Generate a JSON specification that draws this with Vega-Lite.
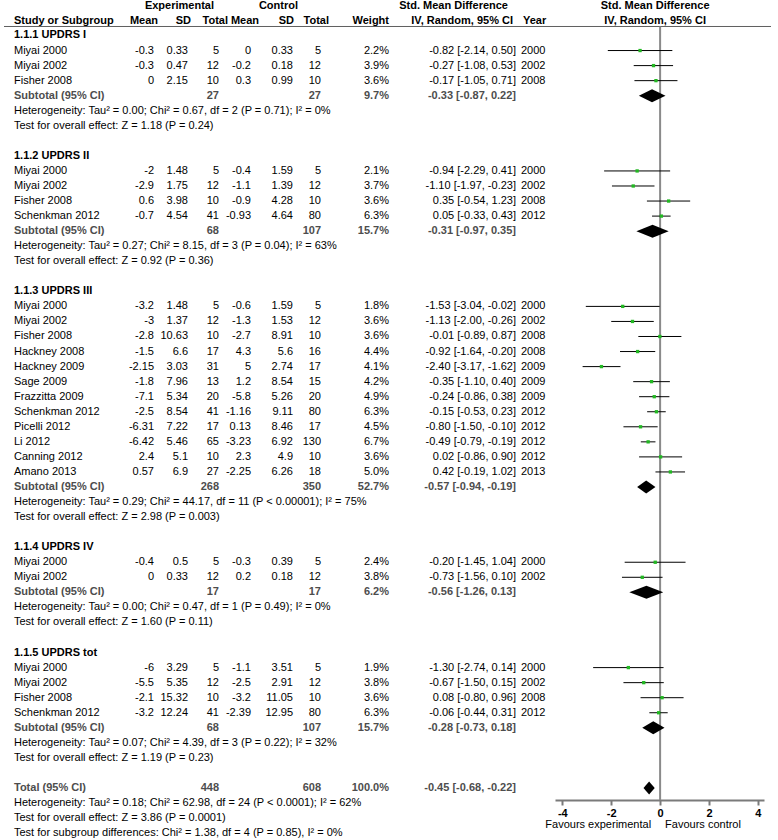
{
  "$schema": "https://vega.github.io/schema/vega-lite/v6.json",
  "background": "white",
  "padding": {"left": 3, "top": 0, "right": 0, "bottom": 0},
  "spacing": 0,
  "bounds": "flush",
  "config": {
    "view": {"stroke": null},
    "text": {"font": "Liberation Sans", "fontSize": 11},
    "axis": {"labelFont": "Liberation Sans", "titleFont": "Liberation Sans"}
  },
  "datasets": {
    "hdr": [
      {"col": "study", "row": 1, "text": "Study or Subgroup"},
      {"col": "em", "row": 1, "text": "Mean"},
      {"col": "esd", "row": 1, "text": "SD"},
      {"col": "en", "row": 1, "text": "Total"},
      {"col": "en", "row": 0, "text": "Experimental"},
      {"col": "cm", "row": 1, "text": "Mean"},
      {"col": "csd", "row": 1, "text": "SD"},
      {"col": "csd", "row": 0, "text": "Control"},
      {"col": "cn", "row": 1, "text": "Total"},
      {"col": "w", "row": 1, "text": "Weight"},
      {"col": "ci", "row": 0, "text": "Std. Mean Difference"},
      {"col": "ci", "row": 1, "text": "IV, Random, 95% CI"},
      {"col": "year", "row": 1, "text": "Year"},
      {"col": "plot", "row": 0, "text": "Std. Mean Difference"},
      {"col": "plot", "row": 1, "text": "IV, Random, 95% CI"}
    ],
    "table": [
      {"row": 2, "type": "group", "label": "1.1.1 UPDRS I"},
      {"row": 3, "type": "study", "label": "Miyai 2000", "em": -0.3, "esd": 0.33, "en": 5, "cm": 0, "csd": 0.33, "cn": 5, "w": 0.022, "ci": "-0.82 [-2.14, 0.50]", "year": 2000, "est": -0.82, "lo": -2.14, "hi": 0.5},
      {"row": 4, "type": "study", "label": "Miyai 2002", "em": -0.3, "esd": 0.47, "en": 12, "cm": -0.2, "csd": 0.18, "cn": 12, "w": 0.039, "ci": "-0.27 [-1.08, 0.53]", "year": 2002, "est": -0.27, "lo": -1.08, "hi": 0.53},
      {"row": 5, "type": "study", "label": "Fisher 2008", "em": 0, "esd": 2.15, "en": 10, "cm": 0.3, "csd": 0.99, "cn": 10, "w": 0.036, "ci": "-0.17 [-1.05, 0.71]", "year": 2008, "est": -0.17, "lo": -1.05, "hi": 0.71},
      {"row": 6, "type": "subtotal", "label": "Subtotal (95% CI)", "en": 27, "cn": 27, "w": 0.097, "ci": "-0.33 [-0.87, 0.22]", "est": -0.33, "lo": -0.87, "hi": 0.22},
      {"row": 7, "type": "note", "label": "Heterogeneity: Tau² = 0.00; Chi² = 0.67, df = 2 (P = 0.71); I² = 0%"},
      {"row": 8, "type": "note", "label": "Test for overall effect: Z = 1.18 (P = 0.24)"},
      {"row": 10, "type": "group", "label": "1.1.2 UPDRS II"},
      {"row": 11, "type": "study", "label": "Miyai 2000", "em": -2, "esd": 1.48, "en": 5, "cm": -0.4, "csd": 1.59, "cn": 5, "w": 0.021, "ci": "-0.94 [-2.29, 0.41]", "year": 2000, "est": -0.94, "lo": -2.29, "hi": 0.41},
      {"row": 12, "type": "study", "label": "Miyai 2002", "em": -2.9, "esd": 1.75, "en": 12, "cm": -1.1, "csd": 1.39, "cn": 12, "w": 0.037, "ci": "-1.10 [-1.97, -0.23]", "year": 2002, "est": -1.1, "lo": -1.97, "hi": -0.23},
      {"row": 13, "type": "study", "label": "Fisher 2008", "em": 0.6, "esd": 3.98, "en": 10, "cm": -0.9, "csd": 4.28, "cn": 10, "w": 0.036, "ci": "0.35 [-0.54, 1.23]", "year": 2008, "est": 0.35, "lo": -0.54, "hi": 1.23},
      {"row": 14, "type": "study", "label": "Schenkman 2012", "em": -0.7, "esd": 4.54, "en": 41, "cm": -0.93, "csd": 4.64, "cn": 80, "w": 0.063, "ci": "0.05 [-0.33, 0.43]", "year": 2012, "est": 0.05, "lo": -0.33, "hi": 0.43},
      {"row": 15, "type": "subtotal", "label": "Subtotal (95% CI)", "en": 68, "cn": 107, "w": 0.157, "ci": "-0.31 [-0.97, 0.35]", "est": -0.31, "lo": -0.97, "hi": 0.35},
      {"row": 16, "type": "note", "label": "Heterogeneity: Tau² = 0.27; Chi² = 8.15, df = 3 (P = 0.04); I² = 63%"},
      {"row": 17, "type": "note", "label": "Test for overall effect: Z = 0.92 (P = 0.36)"},
      {"row": 19, "type": "group", "label": "1.1.3 UPDRS III"},
      {"row": 20, "type": "study", "label": "Miyai 2000", "em": -3.2, "esd": 1.48, "en": 5, "cm": -0.6, "csd": 1.59, "cn": 5, "w": 0.018, "ci": "-1.53 [-3.04, -0.02]", "year": 2000, "est": -1.53, "lo": -3.04, "hi": -0.02},
      {"row": 21, "type": "study", "label": "Miyai 2002", "em": -3, "esd": 1.37, "en": 12, "cm": -1.3, "csd": 1.53, "cn": 12, "w": 0.036, "ci": "-1.13 [-2.00, -0.26]", "year": 2002, "est": -1.13, "lo": -2.0, "hi": -0.26},
      {"row": 22, "type": "study", "label": "Fisher 2008", "em": -2.8, "esd": 10.63, "en": 10, "cm": -2.7, "csd": 8.91, "cn": 10, "w": 0.036, "ci": "-0.01 [-0.89, 0.87]", "year": 2008, "est": -0.01, "lo": -0.89, "hi": 0.87},
      {"row": 23, "type": "study", "label": "Hackney 2008", "em": -1.5, "esd": 6.6, "en": 17, "cm": 4.3, "csd": 5.6, "cn": 16, "w": 0.044, "ci": "-0.92 [-1.64, -0.20]", "year": 2008, "est": -0.92, "lo": -1.64, "hi": -0.2},
      {"row": 24, "type": "study", "label": "Hackney 2009", "em": -2.15, "esd": 3.03, "en": 31, "cm": 5, "csd": 2.74, "cn": 17, "w": 0.041, "ci": "-2.40 [-3.17, -1.62]", "year": 2009, "est": -2.4, "lo": -3.17, "hi": -1.62},
      {"row": 25, "type": "study", "label": "Sage 2009", "em": -1.8, "esd": 7.96, "en": 13, "cm": 1.2, "csd": 8.54, "cn": 15, "w": 0.042, "ci": "-0.35 [-1.10, 0.40]", "year": 2009, "est": -0.35, "lo": -1.1, "hi": 0.4},
      {"row": 26, "type": "study", "label": "Frazzitta 2009", "em": -7.1, "esd": 5.34, "en": 20, "cm": -5.8, "csd": 5.26, "cn": 20, "w": 0.049, "ci": "-0.24 [-0.86, 0.38]", "year": 2009, "est": -0.24, "lo": -0.86, "hi": 0.38},
      {"row": 27, "type": "study", "label": "Schenkman 2012", "em": -2.5, "esd": 8.54, "en": 41, "cm": -1.16, "csd": 9.11, "cn": 80, "w": 0.063, "ci": "-0.15 [-0.53, 0.23]", "year": 2012, "est": -0.15, "lo": -0.53, "hi": 0.23},
      {"row": 28, "type": "study", "label": "Picelli 2012", "em": -6.31, "esd": 7.22, "en": 17, "cm": 0.13, "csd": 8.46, "cn": 17, "w": 0.045, "ci": "-0.80 [-1.50, -0.10]", "year": 2012, "est": -0.8, "lo": -1.5, "hi": -0.1},
      {"row": 29, "type": "study", "label": "Li 2012", "em": -6.42, "esd": 5.46, "en": 65, "cm": -3.23, "csd": 6.92, "cn": 130, "w": 0.067, "ci": "-0.49 [-0.79, -0.19]", "year": 2012, "est": -0.49, "lo": -0.79, "hi": -0.19},
      {"row": 30, "type": "study", "label": "Canning 2012", "em": 2.4, "esd": 5.1, "en": 10, "cm": 2.3, "csd": 4.9, "cn": 10, "w": 0.036, "ci": "0.02 [-0.86, 0.90]", "year": 2012, "est": 0.02, "lo": -0.86, "hi": 0.9},
      {"row": 31, "type": "study", "label": "Amano 2013", "em": 0.57, "esd": 6.9, "en": 27, "cm": -2.25, "csd": 6.26, "cn": 18, "w": 0.05, "ci": "0.42 [-0.19, 1.02]", "year": 2013, "est": 0.42, "lo": -0.19, "hi": 1.02},
      {"row": 32, "type": "subtotal", "label": "Subtotal (95% CI)", "en": 268, "cn": 350, "w": 0.527, "ci": "-0.57 [-0.94, -0.19]", "est": -0.57, "lo": -0.94, "hi": -0.19},
      {"row": 33, "type": "note", "label": "Heterogeneity: Tau² = 0.29; Chi² = 44.17, df = 11 (P < 0.00001); I² = 75%"},
      {"row": 34, "type": "note", "label": "Test for overall effect: Z = 2.98 (P = 0.003)"},
      {"row": 36, "type": "group", "label": "1.1.4 UPDRS IV"},
      {"row": 37, "type": "study", "label": "Miyai 2000", "em": -0.4, "esd": 0.5, "en": 5, "cm": -0.3, "csd": 0.39, "cn": 5, "w": 0.024, "ci": "-0.20 [-1.45, 1.04]", "year": 2000, "est": -0.2, "lo": -1.45, "hi": 1.04},
      {"row": 38, "type": "study", "label": "Miyai 2002", "em": 0, "esd": 0.33, "en": 12, "cm": 0.2, "csd": 0.18, "cn": 12, "w": 0.038, "ci": "-0.73 [-1.56, 0.10]", "year": 2002, "est": -0.73, "lo": -1.56, "hi": 0.1},
      {"row": 39, "type": "subtotal", "label": "Subtotal (95% CI)", "en": 17, "cn": 17, "w": 0.062, "ci": "-0.56 [-1.26, 0.13]", "est": -0.56, "lo": -1.26, "hi": 0.13},
      {"row": 40, "type": "note", "label": "Heterogeneity: Tau² = 0.00; Chi² = 0.47, df = 1 (P = 0.49); I² = 0%"},
      {"row": 41, "type": "note", "label": "Test for overall effect: Z = 1.60 (P = 0.11)"},
      {"row": 43, "type": "group", "label": "1.1.5 UPDRS tot"},
      {"row": 44, "type": "study", "label": "Miyai 2000", "em": -6, "esd": 3.29, "en": 5, "cm": -1.1, "csd": 3.51, "cn": 5, "w": 0.019, "ci": "-1.30 [-2.74, 0.14]", "year": 2000, "est": -1.3, "lo": -2.74, "hi": 0.14},
      {"row": 45, "type": "study", "label": "Miyai 2002", "em": -5.5, "esd": 5.35, "en": 12, "cm": -2.5, "csd": 2.91, "cn": 12, "w": 0.038, "ci": "-0.67 [-1.50, 0.15]", "year": 2002, "est": -0.67, "lo": -1.5, "hi": 0.15},
      {"row": 46, "type": "study", "label": "Fisher 2008", "em": -2.1, "esd": 15.32, "en": 10, "cm": -3.2, "csd": 11.05, "cn": 10, "w": 0.036, "ci": "0.08 [-0.80, 0.96]", "year": 2008, "est": 0.08, "lo": -0.8, "hi": 0.96},
      {"row": 47, "type": "study", "label": "Schenkman 2012", "em": -3.2, "esd": 12.24, "en": 41, "cm": -2.39, "csd": 12.95, "cn": 80, "w": 0.063, "ci": "-0.06 [-0.44, 0.31]", "year": 2012, "est": -0.06, "lo": -0.44, "hi": 0.31},
      {"row": 48, "type": "subtotal", "label": "Subtotal (95% CI)", "en": 68, "cn": 107, "w": 0.157, "ci": "-0.28 [-0.73, 0.18]", "est": -0.28, "lo": -0.73, "hi": 0.18},
      {"row": 49, "type": "note", "label": "Heterogeneity: Tau² = 0.07; Chi² = 4.39, df = 3 (P = 0.22); I² = 32%"},
      {"row": 50, "type": "note", "label": "Test for overall effect: Z = 1.19 (P = 0.23)"},
      {"row": 52, "type": "total", "label": "Total (95% CI)", "en": 448, "cn": 608, "w": 1.0, "ci": "-0.45 [-0.68, -0.22]", "est": -0.45, "lo": -0.68, "hi": -0.22},
      {"row": 53, "type": "note", "label": "Heterogeneity: Tau² = 0.18; Chi² = 62.98, df = 24 (P < 0.0001); I² = 62%"},
      {"row": 54, "type": "note", "label": "Test for overall effect: Z = 3.86 (P = 0.0001)"},
      {"row": 55, "type": "note", "label": "Test for subgroup differences: Chi² = 1.38, df = 4 (P = 0.85), I² = 0%"}
    ]
  },
  "hconcat": [
    {
      "width": 10, "height": 840,
      "layer": [
        {"data": {"values": [{}]}, "mark": {"type": "rule", "color": "#606060", "strokeWidth": 1},
         "encoding": {"y": {"datum": 1.402, "type": "quantitative", "scale": {"domain": [-0.292, 55.522], "reverse": true, "nice": false, "zero": false}, "axis": null}}}
      ]
    },
    {
      "width": 107, "height": 840,
      "layer": [
        {"data": {"name": "hdr"}, "transform": [{"filter": "datum.col==='study'"}],
         "mark": {"type": "text", "align": "left", "x": 0, "dy": 1, "fontWeight": "bold"},
         "encoding": {"y": {"field": "row", "type": "quantitative", "scale": {"domain": [-0.292, 55.522], "reverse": true, "nice": false, "zero": false}, "axis": null}, "text": {"field": "text", "type": "nominal"}}},
        {"data": {"name": "table"}, "transform": [{"filter": "isValid(datum.label)"}],
         "mark": {"type": "text", "align": "left", "x": 0,
                  "fontWeight": {"expr": "datum.type==='group'||datum.type==='subtotal'||datum.type==='total' ? 'bold' : 'normal'"},
                  "fill": {"expr": "datum.type==='subtotal'||datum.type==='total' ? '#4d4d4d' : '#000000'"}},
         "encoding": {"y": {"field": "row", "type": "quantitative", "scale": {"domain": [-0.292, 55.522], "reverse": true, "nice": false, "zero": false}, "axis": null}, "text": {"field": "label", "type": "nominal"}}},
        {"data": {"values": [{}]}, "mark": {"type": "rule", "color": "#606060", "strokeWidth": 1},
         "encoding": {"y": {"datum": 1.402, "type": "quantitative", "scale": {"domain": [-0.292, 55.522], "reverse": true, "nice": false, "zero": false}, "axis": null}}}
      ]
    },
    {
      "width": 33, "height": 840,
      "layer": [
        {"data": {"name": "hdr"}, "transform": [{"filter": "datum.col==='em'"}],
         "mark": {"type": "text", "align": "right", "x": "width", "dx": 4, "dy": 1, "fontWeight": "bold"},
         "encoding": {"y": {"field": "row", "type": "quantitative", "scale": {"domain": [-0.292, 55.522], "reverse": true, "nice": false, "zero": false}, "axis": null}, "text": {"field": "text", "type": "nominal"}}},
        {"data": {"name": "table"}, "transform": [{"filter": "isValid(datum.em)"}],
         "mark": {"type": "text", "align": "right", "x": "width"},
         "encoding": {"y": {"field": "row", "type": "quantitative", "scale": {"domain": [-0.292, 55.522], "reverse": true, "nice": false, "zero": false}, "axis": null}, "text": {"field": "em", "type": "nominal"}}},
        {"data": {"values": [{}]}, "mark": {"type": "rule", "color": "#606060", "strokeWidth": 1},
         "encoding": {"y": {"datum": 1.402, "type": "quantitative", "scale": {"domain": [-0.292, 55.522], "reverse": true, "nice": false, "zero": false}, "axis": null}}}
      ]
    },
    {
      "width": 34, "height": 840,
      "layer": [
        {"data": {"name": "hdr"}, "transform": [{"filter": "datum.col==='esd'"}],
         "mark": {"type": "text", "align": "right", "x": "width", "dx": 3, "dy": 1, "fontWeight": "bold"},
         "encoding": {"y": {"field": "row", "type": "quantitative", "scale": {"domain": [-0.292, 55.522], "reverse": true, "nice": false, "zero": false}, "axis": null}, "text": {"field": "text", "type": "nominal"}}},
        {"data": {"name": "table"}, "transform": [{"filter": "isValid(datum.esd)"}],
         "mark": {"type": "text", "align": "right", "x": "width"},
         "encoding": {"y": {"field": "row", "type": "quantitative", "scale": {"domain": [-0.292, 55.522], "reverse": true, "nice": false, "zero": false}, "axis": null}, "text": {"field": "esd", "type": "nominal"}}},
        {"data": {"values": [{}]}, "mark": {"type": "rule", "color": "#606060", "strokeWidth": 1},
         "encoding": {"y": {"datum": 1.402, "type": "quantitative", "scale": {"domain": [-0.292, 55.522], "reverse": true, "nice": false, "zero": false}, "axis": null}}}
      ]
    },
    {
      "width": 31, "height": 840,
      "layer": [
        {"data": {"name": "hdr"}, "transform": [{"filter": "datum.col==='en' && datum.row===1"}],
         "mark": {"type": "text", "align": "right", "x": "width", "dx": 9, "dy": 1, "fontWeight": "bold"},
         "encoding": {"y": {"field": "row", "type": "quantitative", "scale": {"domain": [-0.292, 55.522], "reverse": true, "nice": false, "zero": false}, "axis": null}, "text": {"field": "text", "type": "nominal"}}},
        {"data": {"name": "hdr"}, "transform": [{"filter": "datum.col==='en' && datum.row===0"}],
         "mark": {"type": "text", "align": "right", "x": "width", "dx": -5, "dy": 1, "fontWeight": "bold"},
         "encoding": {"y": {"field": "row", "type": "quantitative", "scale": {"domain": [-0.292, 55.522], "reverse": true, "nice": false, "zero": false}, "axis": null}, "text": {"field": "text", "type": "nominal"}}},
        {"data": {"name": "table"}, "transform": [{"filter": "isValid(datum.en)"}],
         "mark": {"type": "text", "align": "right", "x": "width",
                  "fontWeight": {"expr": "datum.type==='subtotal'||datum.type==='total' ? 'bold' : 'normal'"},
                  "fill": {"expr": "datum.type==='subtotal'||datum.type==='total' ? '#4d4d4d' : '#000000'"}},
         "encoding": {"y": {"field": "row", "type": "quantitative", "scale": {"domain": [-0.292, 55.522], "reverse": true, "nice": false, "zero": false}, "axis": null}, "text": {"field": "en", "type": "nominal"}}},
        {"data": {"values": [{}]}, "mark": {"type": "rule", "color": "#606060", "strokeWidth": 1},
         "encoding": {"y": {"datum": 1.402, "type": "quantitative", "scale": {"domain": [-0.292, 55.522], "reverse": true, "nice": false, "zero": false}, "axis": null}}}
      ]
    },
    {
      "width": 32, "height": 840,
      "layer": [
        {"data": {"name": "hdr"}, "transform": [{"filter": "datum.col==='cm'"}],
         "mark": {"type": "text", "align": "right", "x": "width", "dx": 8, "dy": 1, "fontWeight": "bold"},
         "encoding": {"y": {"field": "row", "type": "quantitative", "scale": {"domain": [-0.292, 55.522], "reverse": true, "nice": false, "zero": false}, "axis": null}, "text": {"field": "text", "type": "nominal"}}},
        {"data": {"name": "table"}, "transform": [{"filter": "isValid(datum.cm)"}],
         "mark": {"type": "text", "align": "right", "x": "width"},
         "encoding": {"y": {"field": "row", "type": "quantitative", "scale": {"domain": [-0.292, 55.522], "reverse": true, "nice": false, "zero": false}, "axis": null}, "text": {"field": "cm", "type": "nominal"}}},
        {"data": {"values": [{}]}, "mark": {"type": "rule", "color": "#606060", "strokeWidth": 1},
         "encoding": {"y": {"datum": 1.402, "type": "quantitative", "scale": {"domain": [-0.292, 55.522], "reverse": true, "nice": false, "zero": false}, "axis": null}}}
      ]
    },
    {
      "width": 42, "height": 840,
      "layer": [
        {"data": {"name": "hdr"}, "transform": [{"filter": "datum.col==='csd' && datum.row===1"}],
         "mark": {"type": "text", "align": "right", "x": "width", "dx": 1, "dy": 1, "fontWeight": "bold"},
         "encoding": {"y": {"field": "row", "type": "quantitative", "scale": {"domain": [-0.292, 55.522], "reverse": true, "nice": false, "zero": false}, "axis": null}, "text": {"field": "text", "type": "nominal"}}},
        {"data": {"name": "hdr"}, "transform": [{"filter": "datum.col==='csd' && datum.row===0"}],
         "mark": {"type": "text", "align": "right", "x": "width", "dx": 5, "dy": 1, "fontWeight": "bold"},
         "encoding": {"y": {"field": "row", "type": "quantitative", "scale": {"domain": [-0.292, 55.522], "reverse": true, "nice": false, "zero": false}, "axis": null}, "text": {"field": "text", "type": "nominal"}}},
        {"data": {"name": "table"}, "transform": [{"filter": "isValid(datum.csd)"}],
         "mark": {"type": "text", "align": "right", "x": "width"},
         "encoding": {"y": {"field": "row", "type": "quantitative", "scale": {"domain": [-0.292, 55.522], "reverse": true, "nice": false, "zero": false}, "axis": null}, "text": {"field": "csd", "type": "nominal"}}},
        {"data": {"values": [{}]}, "mark": {"type": "rule", "color": "#606060", "strokeWidth": 1},
         "encoding": {"y": {"datum": 1.402, "type": "quantitative", "scale": {"domain": [-0.292, 55.522], "reverse": true, "nice": false, "zero": false}, "axis": null}}}
      ]
    },
    {
      "width": 28, "height": 840,
      "layer": [
        {"data": {"name": "hdr"}, "transform": [{"filter": "datum.col==='cn'"}],
         "mark": {"type": "text", "align": "right", "x": "width", "dx": 8, "dy": 1, "fontWeight": "bold"},
         "encoding": {"y": {"field": "row", "type": "quantitative", "scale": {"domain": [-0.292, 55.522], "reverse": true, "nice": false, "zero": false}, "axis": null}, "text": {"field": "text", "type": "nominal"}}},
        {"data": {"name": "table"}, "transform": [{"filter": "isValid(datum.cn)"}],
         "mark": {"type": "text", "align": "right", "x": "width",
                  "fontWeight": {"expr": "datum.type==='subtotal'||datum.type==='total' ? 'bold' : 'normal'"},
                  "fill": {"expr": "datum.type==='subtotal'||datum.type==='total' ? '#4d4d4d' : '#000000'"}},
         "encoding": {"y": {"field": "row", "type": "quantitative", "scale": {"domain": [-0.292, 55.522], "reverse": true, "nice": false, "zero": false}, "axis": null}, "text": {"field": "cn", "type": "nominal"}}},
        {"data": {"values": [{}]}, "mark": {"type": "rule", "color": "#606060", "strokeWidth": 1},
         "encoding": {"y": {"datum": 1.402, "type": "quantitative", "scale": {"domain": [-0.292, 55.522], "reverse": true, "nice": false, "zero": false}, "axis": null}}}
      ]
    },
    {
      "width": 68, "height": 840,
      "layer": [
        {"data": {"name": "hdr"}, "transform": [{"filter": "datum.col==='w'"}],
         "mark": {"type": "text", "align": "right", "x": "width", "dx": 0, "dy": 1, "fontWeight": "bold"},
         "encoding": {"y": {"field": "row", "type": "quantitative", "scale": {"domain": [-0.292, 55.522], "reverse": true, "nice": false, "zero": false}, "axis": null}, "text": {"field": "text", "type": "nominal"}}},
        {"data": {"name": "table"}, "transform": [{"filter": "isValid(datum.w)"}],
         "mark": {"type": "text", "align": "right", "x": "width",
                  "fontWeight": {"expr": "datum.type==='subtotal'||datum.type==='total' ? 'bold' : 'normal'"},
                  "fill": {"expr": "datum.type==='subtotal'||datum.type==='total' ? '#4d4d4d' : '#000000'"}},
         "encoding": {"y": {"field": "row", "type": "quantitative", "scale": {"domain": [-0.292, 55.522], "reverse": true, "nice": false, "zero": false}, "axis": null}, "text": {"field": "w", "type": "quantitative", "format": ".1%"}}},
        {"data": {"values": [{}]}, "mark": {"type": "rule", "color": "#606060", "strokeWidth": 1},
         "encoding": {"y": {"datum": 1.402, "type": "quantitative", "scale": {"domain": [-0.292, 55.522], "reverse": true, "nice": false, "zero": false}, "axis": null}}}
      ]
    },
    {
      "width": 127, "height": 840,
      "layer": [
        {"data": {"name": "hdr"}, "transform": [{"filter": "datum.col==='ci' && datum.row===1"}],
         "mark": {"type": "text", "align": "right", "x": "width", "dx": -3, "dy": 1, "fontWeight": "bold"},
         "encoding": {"y": {"field": "row", "type": "quantitative", "scale": {"domain": [-0.292, 55.522], "reverse": true, "nice": false, "zero": false}, "axis": null}, "text": {"field": "text", "type": "nominal"}}},
        {"data": {"name": "hdr"}, "transform": [{"filter": "datum.col==='ci' && datum.row===0"}],
         "mark": {"type": "text", "align": "right", "x": "width", "dx": -8, "dy": 1, "fontWeight": "bold"},
         "encoding": {"y": {"field": "row", "type": "quantitative", "scale": {"domain": [-0.292, 55.522], "reverse": true, "nice": false, "zero": false}, "axis": null}, "text": {"field": "text", "type": "nominal"}}},
        {"data": {"name": "table"}, "transform": [{"filter": "isValid(datum.ci)"}],
         "mark": {"type": "text", "align": "right", "x": "width",
                  "fontWeight": {"expr": "datum.type==='subtotal'||datum.type==='total' ? 'bold' : 'normal'"},
                  "fill": {"expr": "datum.type==='subtotal'||datum.type==='total' ? '#4d4d4d' : '#000000'"}},
         "encoding": {"y": {"field": "row", "type": "quantitative", "scale": {"domain": [-0.292, 55.522], "reverse": true, "nice": false, "zero": false}, "axis": null}, "text": {"field": "ci", "type": "nominal"}}},
        {"data": {"values": [{}]}, "mark": {"type": "rule", "color": "#606060", "strokeWidth": 1},
         "encoding": {"y": {"datum": 1.402, "type": "quantitative", "scale": {"domain": [-0.292, 55.522], "reverse": true, "nice": false, "zero": false}, "axis": null}}}
      ]
    },
    {
      "width": 39, "height": 840,
      "layer": [
        {"data": {"name": "hdr"}, "transform": [{"filter": "datum.col==='year'"}],
         "mark": {"type": "text", "align": "left", "x": 0, "dx": 7, "dy": 1, "fontWeight": "bold"},
         "encoding": {"y": {"field": "row", "type": "quantitative", "scale": {"domain": [-0.292, 55.522], "reverse": true, "nice": false, "zero": false}, "axis": null}, "text": {"field": "text", "type": "nominal"}}},
        {"data": {"name": "table"}, "transform": [{"filter": "isValid(datum.year)"}],
         "mark": {"type": "text", "align": "left", "x": 0, "dx": 5},
         "encoding": {"y": {"field": "row", "type": "quantitative", "scale": {"domain": [-0.292, 55.522], "reverse": true, "nice": false, "zero": false}, "axis": null}, "text": {"field": "year", "type": "nominal"}}},
        {"data": {"values": [{}]}, "mark": {"type": "rule", "color": "#606060", "strokeWidth": 1},
         "encoding": {"y": {"datum": 1.402, "type": "quantitative", "scale": {"domain": [-0.292, 55.522], "reverse": true, "nice": false, "zero": false}, "axis": null}}}
      ]
    },
    {
      "width": 209, "height": 840,
      "layer": [
        {"data": {"name": "hdr"}, "transform": [{"filter": "datum.col==='plot'"}],
         "mark": {"type": "text", "align": "center", "dx": -5, "dy": 1, "fontWeight": "bold"},
         "encoding": {
           "x": {"datum": 0, "type": "quantitative", "scale": {"domain": [-4.3, 4.25], "nice": false, "zero": false},
                 "axis": {"values": [-4, -2, 0, 2, 4], "offset": -41, "title": null, "grid": false, "domainColor": "#7a7a7a", "domainWidth": 2, "tickColor": "#7a7a7a", "tickWidth": 2, "tickSize": 5, "labelFontWeight": "bold", "labelFontSize": 11, "labelColor": "#000000", "labelPadding": 2, "labelExpr": "'' + datum.value"}},
           "y": {"field": "row", "type": "quantitative", "scale": {"domain": [-0.292, 55.522], "reverse": true, "nice": false, "zero": false}, "axis": null},
           "text": {"field": "text", "type": "nominal"}}},
        {"data": {"values": [{}]}, "mark": {"type": "rule", "color": "#606060", "strokeWidth": 1},
         "encoding": {"y": {"datum": 1.402, "type": "quantitative", "scale": {"domain": [-0.292, 55.522], "reverse": true, "nice": false, "zero": false}, "axis": null}}},
        {"data": {"values": [{}]}, "mark": {"type": "rule", "color": "#8a8a8a", "strokeWidth": 2},
         "encoding": {
           "x": {"datum": 0, "type": "quantitative", "scale": {"domain": [-4.3, 4.25], "nice": false, "zero": false},
                 "axis": {"values": [-4, -2, 0, 2, 4], "offset": -41, "title": null, "grid": false, "domainColor": "#7a7a7a", "domainWidth": 2, "tickColor": "#7a7a7a", "tickWidth": 2, "tickSize": 5, "labelFontWeight": "bold", "labelFontSize": 11, "labelColor": "#000000", "labelPadding": 2, "labelExpr": "'' + datum.value"}},
           "y": {"datum": 1.402, "type": "quantitative", "scale": {"domain": [-0.292, 55.522], "reverse": true, "nice": false, "zero": false}, "axis": null},
           "y2": {"datum": 52.8}}},
        {"data": {"name": "table"}, "transform": [{"filter": "datum.type==='study'"}],
         "mark": {"type": "rule", "color": "#000000", "strokeWidth": 1},
         "encoding": {
           "x": {"field": "lo", "type": "quantitative", "scale": {"domain": [-4.3, 4.25], "nice": false, "zero": false},
                 "axis": {"values": [-4, -2, 0, 2, 4], "offset": -41, "title": null, "grid": false, "domainColor": "#7a7a7a", "domainWidth": 2, "tickColor": "#7a7a7a", "tickWidth": 2, "tickSize": 5, "labelFontWeight": "bold", "labelFontSize": 11, "labelColor": "#000000", "labelPadding": 2, "labelExpr": "'' + datum.value"}},
           "x2": {"field": "hi"},
           "y": {"field": "row", "type": "quantitative", "scale": {"domain": [-0.292, 55.522], "reverse": true, "nice": false, "zero": false}, "axis": null}}},
        {"data": {"name": "table"}, "transform": [{"filter": "datum.type==='study'"}],
         "mark": {"type": "square", "size": 11, "color": "#22b822", "opacity": 1},
         "encoding": {
           "x": {"field": "est", "type": "quantitative", "scale": {"domain": [-4.3, 4.25], "nice": false, "zero": false},
                 "axis": {"values": [-4, -2, 0, 2, 4], "offset": -41, "title": null, "grid": false, "domainColor": "#7a7a7a", "domainWidth": 2, "tickColor": "#7a7a7a", "tickWidth": 2, "tickSize": 5, "labelFontWeight": "bold", "labelFontSize": 11, "labelColor": "#000000", "labelPadding": 2, "labelExpr": "'' + datum.value"}},
           "y": {"field": "row", "type": "quantitative", "scale": {"domain": [-0.292, 55.522], "reverse": true, "nice": false, "zero": false}, "axis": null}}},
        {"data": {"name": "table"}, "transform": [{"filter": "datum.type==='subtotal'||datum.type==='total'"}, {"fold": ["lo", "est", "hi"], "as": ["key", "value"]}],
         "mark": {"type": "area", "color": "#000000", "opacity": 1,
                  "yOffset": {"expr": "datum.key==='est' ? -6.5 : 0"},
                  "y2Offset": {"expr": "datum.key==='est' ? 6.5 : 0"}},
         "encoding": {
           "x": {"field": "value", "type": "quantitative", "scale": {"domain": [-4.3, 4.25], "nice": false, "zero": false},
                 "axis": {"values": [-4, -2, 0, 2, 4], "offset": -41, "title": null, "grid": false, "domainColor": "#7a7a7a", "domainWidth": 2, "tickColor": "#7a7a7a", "tickWidth": 2, "tickSize": 5, "labelFontWeight": "bold", "labelFontSize": 11, "labelColor": "#000000", "labelPadding": 2, "labelExpr": "'' + datum.value"}},
           "y": {"field": "row", "type": "quantitative", "scale": {"domain": [-0.292, 55.522], "reverse": true, "nice": false, "zero": false}, "axis": null},
           "y2": {"field": "row"},
           "detail": {"field": "row", "type": "nominal"}}},
        {"data": {"values": [{}]}, "mark": {"type": "text", "align": "right", "dx": -9},
         "encoding": {
           "x": {"datum": 0, "type": "quantitative", "scale": {"domain": [-4.3, 4.25], "nice": false, "zero": false},
                 "axis": {"values": [-4, -2, 0, 2, 4], "offset": -41, "title": null, "grid": false, "domainColor": "#7a7a7a", "domainWidth": 2, "tickColor": "#7a7a7a", "tickWidth": 2, "tickSize": 5, "labelFontWeight": "bold", "labelFontSize": 11, "labelColor": "#000000", "labelPadding": 2, "labelExpr": "'' + datum.value"}},
           "y": {"datum": 54.46, "type": "quantitative", "scale": {"domain": [-0.292, 55.522], "reverse": true, "nice": false, "zero": false}, "axis": null},
           "text": {"value": "Favours experimental"}}},
        {"data": {"values": [{}]}, "mark": {"type": "text", "align": "left", "dx": 5},
         "encoding": {
           "x": {"datum": 0, "type": "quantitative", "scale": {"domain": [-4.3, 4.25], "nice": false, "zero": false},
                 "axis": {"values": [-4, -2, 0, 2, 4], "offset": -41, "title": null, "grid": false, "domainColor": "#7a7a7a", "domainWidth": 2, "tickColor": "#7a7a7a", "tickWidth": 2, "tickSize": 5, "labelFontWeight": "bold", "labelFontSize": 11, "labelColor": "#000000", "labelPadding": 2, "labelExpr": "'' + datum.value"}},
           "y": {"datum": 54.46, "type": "quantitative", "scale": {"domain": [-0.292, 55.522], "reverse": true, "nice": false, "zero": false}, "axis": null},
           "text": {"value": "Favours control"}}}
      ]
    },
    {
      "width": 7, "height": 840,
      "layer": [
        {"data": {"values": [{}]}, "mark": {"type": "rule", "color": "#606060", "strokeWidth": 1},
         "encoding": {"y": {"datum": 1.402, "type": "quantitative", "scale": {"domain": [-0.292, 55.522], "reverse": true, "nice": false, "zero": false}, "axis": null}}}
      ]
    }
  ]
}
